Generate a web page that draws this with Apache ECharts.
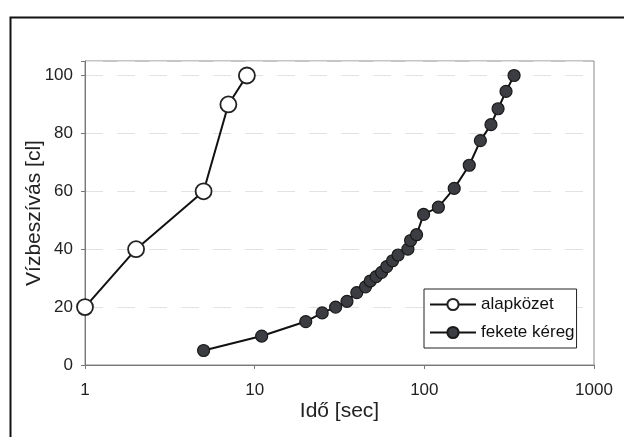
<!DOCTYPE html>
<html>
<head>
<meta charset="utf-8">
<script src="https://cdn.jsdelivr.net/npm/echarts@6/dist/echarts.min.js"></script>
<style>
    html, body {margin: 0; padding: 0; background: #fff;}
    #chart {width: 624px; height: 437px;}
</style>
</head>
<body>
<div id="chart"></div>
<script>
// alapközet (open circles)
const alap_time = [1, 2, 5, 7, 9];
const alap_water = [20, 40, 60, 90, 100];

// fekete kéreg (filled circles)
const kereg_time = [5, 11, 20, 25, 30, 35, 40, 45, 48, 52, 56, 60, 65, 70, 80, 83, 90,
    99, 121, 150, 184, 214, 247, 272, 303, 338];
const kereg_water = [5, 10, 15, 18, 20, 22, 25, 27, 29, 30.5, 32, 34, 36, 38, 40, 43, 45,
    52, 54.5, 61, 69, 77.5, 83, 88.5, 94.5, 100];

const x_ticks = [1, 10, 100, 1000];
const y_ticks = [0, 20, 40, 60, 80, 100];

function to_pairs(xs, ys) {
    return xs.map(function (v, i) {
        return [v, ys[i]];
    });
}

let chart = echarts.init(document.getElementById('chart'), null, {renderer: 'canvas'});
const font = 'Liberation Sans, Arial, sans-serif';

let option = {
    animation: false,
    backgroundColor: '#fff',
    textStyle: {fontFamily: font},
    grid: {
        left: 85, right: 30, top: 61, bottom: 72,
        show: true, borderColor: '#8a8a8a', borderWidth: 1
    },
    xAxis: {
        type: 'log', logBase: 10, min: 1, max: 1000,
        name: 'Idő [sec]', nameLocation: 'middle', nameGap: 36, nameMoveOverlap: false,
        nameTextStyle: {fontSize: 21, color: '#222', fontFamily: font},
        axisLine: {lineStyle: {color: '#777'}},
        axisTick: {show: true, inside: false, length: 4, lineStyle: {color: '#777'}},
        minorTick: {show: false},
        splitLine: {show: false},
        axisLabel: {
            fontSize: 17, color: '#222', margin: 17, fontFamily: font,
            formatter: function (v) {
                return x_ticks.indexOf(Math.round(v)) >= 0 ? String(Math.round(v)) : '';
            }
        }
    },
    yAxis: {
        type: 'value', min: 0, max: 105, interval: 20,
        name: 'Vízbeszívás [cl]', nameLocation: 'middle', nameGap: 40, nameRotate: 90,
        nameMoveOverlap: false,
        nameTextStyle: {fontSize: 21, color: '#222', fontFamily: font},
        axisLine: {show: true, lineStyle: {color: '#777'}},
        axisTick: {show: true, length: 4, lineStyle: {color: '#777'}},
        splitLine: {show: true, lineStyle: {color: '#e2e2e2', type: [18, 14], width: 1}},
        axisLabel: {
            fontSize: 17, color: '#222', margin: 12, fontFamily: font,
            formatter: function (v) {
                return y_ticks.indexOf(v) >= 0 ? String(v) : '';
            }
        }
    },
    legend: {
        orient: 'vertical', left: 424, top: 289,
        padding: [7, 2, 7, 5], itemGap: 11,
        itemWidth: 46, itemHeight: 14,
        borderColor: '#222', borderWidth: 1,
        backgroundColor: '#fff',
        textStyle: {fontSize: 17, color: '#111', fontFamily: font},
        data: ['alapközet', 'fekete kéreg']
    },
    series: [
        {
            name: 'alapközet', type: 'line',
            data: to_pairs(alap_time, alap_water),
            symbol: 'circle', symbolSize: 16,
            lineStyle: {color: '#111', width: 2},
            itemStyle: {color: '#fff', borderColor: '#222', borderWidth: 1.8},
            z: 3
        },
        {
            name: 'fekete kéreg', type: 'line',
            data: to_pairs(kereg_time, kereg_water),
            symbol: 'circle', symbolSize: 12,
            lineStyle: {color: '#111', width: 2},
            itemStyle: {color: '#3b3d42', borderColor: '#1a1a1a', borderWidth: 1.2},
            z: 3
        }
    ],
    graphic: [
        {
            // chart area frame, runs off the right and bottom of the picture
            type: 'rect', left: 8, top: 15, silent: true,
            shape: {width: 640, height: 440},
            style: {fill: null, stroke: '#111', lineWidth: 2}
        }
    ]
};

chart.setOption(option);
window.addEventListener('resize', function () {
    chart.resize();
});
</script>
</body>
</html>
